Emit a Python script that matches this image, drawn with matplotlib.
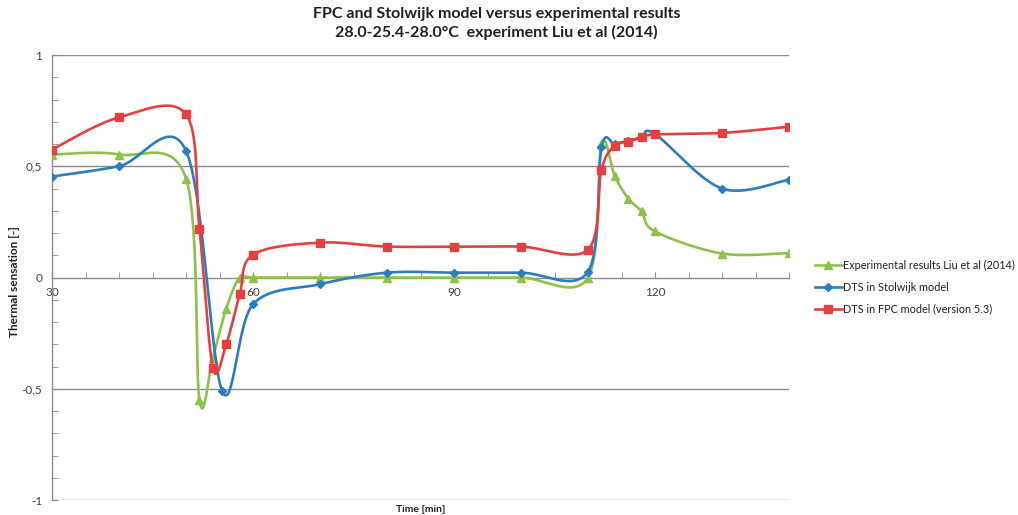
import numpy as np
import matplotlib
matplotlib.use("Agg")
import matplotlib.pyplot as plt

plt.rcParams['font.family'] = ['Lato', 'DejaVu Sans']

# ---- data ----
exp_t = [30, 40, 50, 52, 54, 56, 58, 60, 70, 80, 90, 100, 110, 112, 114, 116, 118, 120, 130, 140]
exp_v = [0.553, 0.553, 0.445, -0.55, -0.36, -0.14, 0.0, 0.0, 0.0, 0.0, 0.0, 0.0, 0.0,
         0.60, 0.455, 0.355, 0.297, 0.207, 0.108, 0.11]

stol_t = [30, 40, 50, 55.4, 60, 70, 80, 90, 100, 110, 112, 114, 116, 118, 120, 130, 140]
stol_v = [0.454, 0.50, 0.57, -0.51, -0.12, -0.03, 0.022, 0.022, 0.022, 0.027,
          0.585, 0.60, 0.615, 0.63, 0.645, 0.40, 0.44]

fpc_t = [30, 40, 50, 52, 54, 56, 58, 60, 70, 80, 90, 100, 110, 112, 114, 116, 118, 120, 130, 140]
fpc_v = [0.575, 0.72, 0.733, 0.22, -0.405, -0.30, -0.076, 0.103, 0.157, 0.139, 0.139, 0.139,
         0.126, 0.485, 0.593, 0.61, 0.63, 0.643, 0.65, 0.678]

labels = ["Experimental results Liu et al (2014)",
          "DTS in Stolwijk model",
          "DTS in FPC model (version 5.3)"]
title = "FPC and Stolwijk model versus experimental results\n28.0-25.4-28.0\u00b0C  experiment Liu et al (2014)"
xticks = [30, 60, 90, 120]
yticks = [-1, -0.5, 0, 0.5, 1]
yticklabels = ["-1", "-0,5", "0", "0,5", "1"]


def smooth(xs, ys, n=30):
    """Excel-like smoothing (Catmull-Rom Bezier)."""
    P = np.column_stack([xs, ys]).astype(float)
    m = len(P)
    out = []
    for i in range(m - 1):
        p0 = P[i - 1] if i > 0 else P[i]
        p1 = P[i]
        p2 = P[i + 1]
        p3 = P[i + 2] if i + 2 < m else P[i + 1]
        b1 = p1 + (p2 - p0) / 6.0
        b2 = p2 - (p3 - p1) / 6.0
        t = np.linspace(0, 1, n, endpoint=(i == m - 2))[:, None]
        seg = ((1 - t) ** 3) * p1 + 3 * ((1 - t) ** 2) * t * b1 + 3 * (1 - t) * t ** 2 * b2 + t ** 3 * p2
        out.append(seg)
    out = np.vstack(out)
    return out[:, 0], out[:, 1]


fig = plt.figure(figsize=(10.18, 5.15), dpi=100)
ax = fig.add_axes([0.0511, 0.0291, 0.7240, 0.8640])

green = '#8DC14A'
blue = '#2C7DC0'
red = '#E5403F'

series = [
    (exp_t, exp_v, green, '^', 6.0, labels[0]),
    (stol_t, stol_v, blue, 'D', 4.2, labels[1]),
    (fpc_t, fpc_v, red, 's', 6.0, labels[2]),
]
handles = []
for z, (t, v, c, mk, ms, lab) in enumerate(series):
    sx, sy = smooth(t, v)
    ax.plot(sx, sy, color=c, lw=1.9, zorder=3 + z, solid_capstyle='round')
    ax.plot(t, v, linestyle='none', marker=mk, color=c, markersize=ms, zorder=3 + z)
    h, = ax.plot([], [], color=c, lw=1.9, marker=mk, markersize=ms, label=lab)
    handles.append(h)

ax.set_xlim(30, 140)
ax.set_ylim(-1, 1)

grid_c = '#8C8C8C'
for yv in [-1, -0.5, 0.5, 1]:
    ax.axhline(yv, color=grid_c, lw=1.0, zorder=1)

for s in ['top', 'right']:
    ax.spines[s].set_visible(False)
ax.spines['left'].set_color(grid_c)
ax.spines['bottom'].set_color(grid_c)
ax.spines['bottom'].set_position(('data', 0))
ax.spines['left'].set_linewidth(1.0)
ax.spines['bottom'].set_linewidth(1.0)

ax.set_xticks(xticks)
ax.set_xticks(np.arange(30, 141, 5), minor=True)
ax.set_yticks(yticks)
ax.set_yticklabels(yticklabels)
ax.set_yticks(np.arange(-1, 1.001, 0.1), minor=True)
ax.tick_params(axis='both', which='both', direction='in', color=grid_c, labelsize=8.5,
               labelcolor='#404040')
ax.tick_params(axis='both', which='major', length=4)
ax.tick_params(axis='both', which='minor', length=4)
ax.tick_params(axis='x', pad=7)
ax.tick_params(axis='y', pad=7)

ax.set_xlabel("Time [min]", fontsize=7.5, fontweight='bold', color='#202020')
ax.xaxis.set_label_coords(0.5, -0.012)
ax.set_ylabel("Thermal sensation [-]", fontsize=8.5, fontweight='bold', color='#202020')
ax.yaxis.set_label_coords(-0.044, 0.49)

fig.text(0.488, 0.955, title, ha='center', va='center', fontsize=11.5, fontweight='bold',
         color='#202020', linespacing=1.3)

leg = fig.legend(handles=handles, loc='upper left', bbox_to_anchor=(0.796, 0.504),
                 frameon=False, fontsize=7.8, handlelength=2.5, handletextpad=0.15,
                 labelspacing=1.0, borderaxespad=0)
for txt in leg.get_texts():
    txt.set_color('#202020')

fig.savefig("out.png", dpi=100)
